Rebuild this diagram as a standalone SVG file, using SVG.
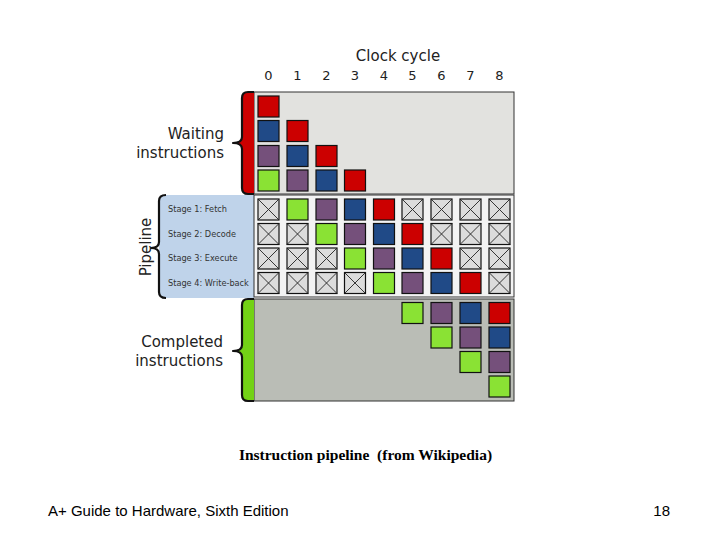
<svg xmlns="http://www.w3.org/2000/svg" width="720" height="540" viewBox="0 0 720 540">
<style>
.t{font-family:"DejaVu Sans",sans-serif;fill:#222}
.lab{font-size:15px}
.num{font-size:13px;text-anchor:middle}
.st{font-size:8.2px;fill:#333}
.sec{stroke:#333;stroke-width:1}
.brace{fill:none;stroke:#111;stroke-width:2.2;stroke-linejoin:round}
.c{stroke:#111;stroke-width:1.2}
.r{fill:#cc0000}.b{fill:#204a87}.p{fill:#75507b}.g{fill:#8ae234}
.x{fill:#dcdcdc}
.xl{stroke:#222;stroke-width:0.9}
</style>
<defs>
<g id="xc"><rect class="c x" width="21" height="21"/><path class="xl" d="M0,0L21,21M21,0L0,21"/></g>
</defs>
<rect width="720" height="540" fill="#fff"/>

<g id="header">
<text class="t lab" x="398" y="61" text-anchor="middle">Clock cycle</text>
<text class="t num" x="268.5" y="80">0</text>
<text class="t num" x="297.5" y="80">1</text>
<text class="t num" x="326.5" y="80">2</text>
<text class="t num" x="355" y="80">3</text>
<text class="t num" x="384" y="80">4</text>
<text class="t num" x="412.5" y="80">5</text>
<text class="t num" x="441.5" y="80">6</text>
<text class="t num" x="470.5" y="80">7</text>
<text class="t num" x="499.5" y="80">8</text>
</g>

<g id="waiting">
<rect class="sec" x="254" y="92" width="260" height="102" fill="#e2e2df"/>
<path d="M254,92 L248,92 Q242,92 242,98 L242,137 Q242,143 233,143 Q242,143 242,149 L242,188 Q242,194 248,194 L254,194 Z" fill="#cc0000"/>
<path class="brace" d="M254,92 L248,92 Q242,92 242,98 L242,137 Q242,143 233,143 Q242,143 242,149 L242,188 Q242,194 248,194 L254,194"/>
<text class="t lab" x="224" y="139" text-anchor="end">Waiting</text>
<text class="t lab" x="224" y="158" text-anchor="end">instructions</text>
<rect class="c r" x="258" y="96" width="21" height="21"/>
<rect class="c b" x="258" y="120.5" width="21" height="21"/>
<rect class="c r" x="287" y="120.5" width="21" height="21"/>
<rect class="c p" x="258" y="145.5" width="21" height="21"/>
<rect class="c b" x="287" y="145.5" width="21" height="21"/>
<rect class="c r" x="316" y="145.5" width="21" height="21"/>
<rect class="c g" x="258" y="170" width="21" height="21"/>
<rect class="c p" x="287" y="170" width="21" height="21"/>
<rect class="c b" x="316" y="170" width="21" height="21"/>
<rect class="c r" x="344.5" y="170" width="21" height="21"/>
</g>

<g id="pipeline">
<path d="M254,195 L166,195 Q159,195 159,202 L159,291 Q159,298 166,298 L254,298 Z" fill="#bfd3ea"/>
<rect class="sec" x="254" y="195" width="260" height="102" fill="#f3f3f3"/>
<path class="brace" d="M166,195 Q159,195 159,201 L159,242 Q159,248 151,248 Q159,248 159,254 L159,292 Q159,298 166,298"/>
<text class="t lab" x="146" y="247" text-anchor="middle" transform="rotate(-90 146 247)" dy="5">Pipeline</text>
<text class="t st" x="168" y="212">Stage 1: Fetch</text>
<text class="t st" x="168" y="237">Stage 2: Decode</text>
<text class="t st" x="168" y="261">Stage 3: Execute</text>
<text class="t st" x="168" y="286">Stage 4: Write-back</text>

<use href="#xc" x="258" y="199"/>
<rect class="c g" x="287" y="199" width="21" height="21"/>
<rect class="c p" x="316" y="199" width="21" height="21"/>
<rect class="c b" x="344.5" y="199" width="21" height="21"/>
<rect class="c r" x="373.5" y="199" width="21" height="21"/>
<use href="#xc" x="402" y="199"/>
<use href="#xc" x="431" y="199"/>
<use href="#xc" x="460" y="199"/>
<use href="#xc" x="489" y="199"/>

<use href="#xc" x="258" y="223.5"/>
<use href="#xc" x="287" y="223.5"/>
<rect class="c g" x="316" y="223.5" width="21" height="21"/>
<rect class="c p" x="344.5" y="223.5" width="21" height="21"/>
<rect class="c b" x="373.5" y="223.5" width="21" height="21"/>
<rect class="c r" x="402" y="223.5" width="21" height="21"/>
<use href="#xc" x="431" y="223.5"/>
<use href="#xc" x="460" y="223.5"/>
<use href="#xc" x="489" y="223.5"/>

<use href="#xc" x="258" y="248"/>
<use href="#xc" x="287" y="248"/>
<use href="#xc" x="316" y="248"/>
<rect class="c g" x="344.5" y="248" width="21" height="21"/>
<rect class="c p" x="373.5" y="248" width="21" height="21"/>
<rect class="c b" x="402" y="248" width="21" height="21"/>
<rect class="c r" x="431" y="248" width="21" height="21"/>
<use href="#xc" x="460" y="248"/>
<use href="#xc" x="489" y="248"/>

<use href="#xc" x="258" y="272.5"/>
<use href="#xc" x="287" y="272.5"/>
<use href="#xc" x="316" y="272.5"/>
<use href="#xc" x="344.5" y="272.5"/>
<rect class="c g" x="373.5" y="272.5" width="21" height="21"/>
<rect class="c p" x="402" y="272.5" width="21" height="21"/>
<rect class="c b" x="431" y="272.5" width="21" height="21"/>
<rect class="c r" x="460" y="272.5" width="21" height="21"/>
<use href="#xc" x="489" y="272.5"/>
</g>

<g id="completed">
<rect class="sec" x="254" y="299" width="260" height="102" fill="#babdb6"/>
<path d="M254,299 L248,299 Q242,299 242,305 L242,345 Q242,351 233,351 Q242,351 242,357 L242,395 Q242,401 248,401 L254,401 Z" fill="#73d216"/>
<path class="brace" d="M254,299 L248,299 Q242,299 242,305 L242,345 Q242,351 233,351 Q242,351 242,357 L242,395 Q242,401 248,401 L254,401"/>
<text class="t lab" x="223" y="347" text-anchor="end">Completed</text>
<text class="t lab" x="223" y="366" text-anchor="end">instructions</text>
<rect class="c g" x="402" y="302.5" width="21" height="21"/>
<rect class="c p" x="431" y="302.5" width="21" height="21"/>
<rect class="c b" x="460" y="302.5" width="21" height="21"/>
<rect class="c r" x="489" y="302.5" width="21" height="21"/>
<rect class="c g" x="431" y="327" width="21" height="21"/>
<rect class="c p" x="460" y="327" width="21" height="21"/>
<rect class="c b" x="489" y="327" width="21" height="21"/>
<rect class="c g" x="460" y="351.5" width="21" height="21"/>
<rect class="c p" x="489" y="351.5" width="21" height="21"/>
<rect class="c g" x="489" y="376" width="21" height="21"/>
</g>

<g id="captions">
<text x="365.5" y="460" text-anchor="middle" font-family="'Liberation Serif',serif" font-weight="bold" font-size="15.5" fill="#000">Instruction pipeline&#160; (from Wikipedia)</text>
<text x="48" y="516" font-family="'Liberation Sans',sans-serif" font-size="15" fill="#000">A+ Guide to Hardware, Sixth Edition</text>
<text x="670" y="516" text-anchor="end" font-family="'Liberation Sans',sans-serif" font-size="15" fill="#000">18</text>
</g>
</svg>
